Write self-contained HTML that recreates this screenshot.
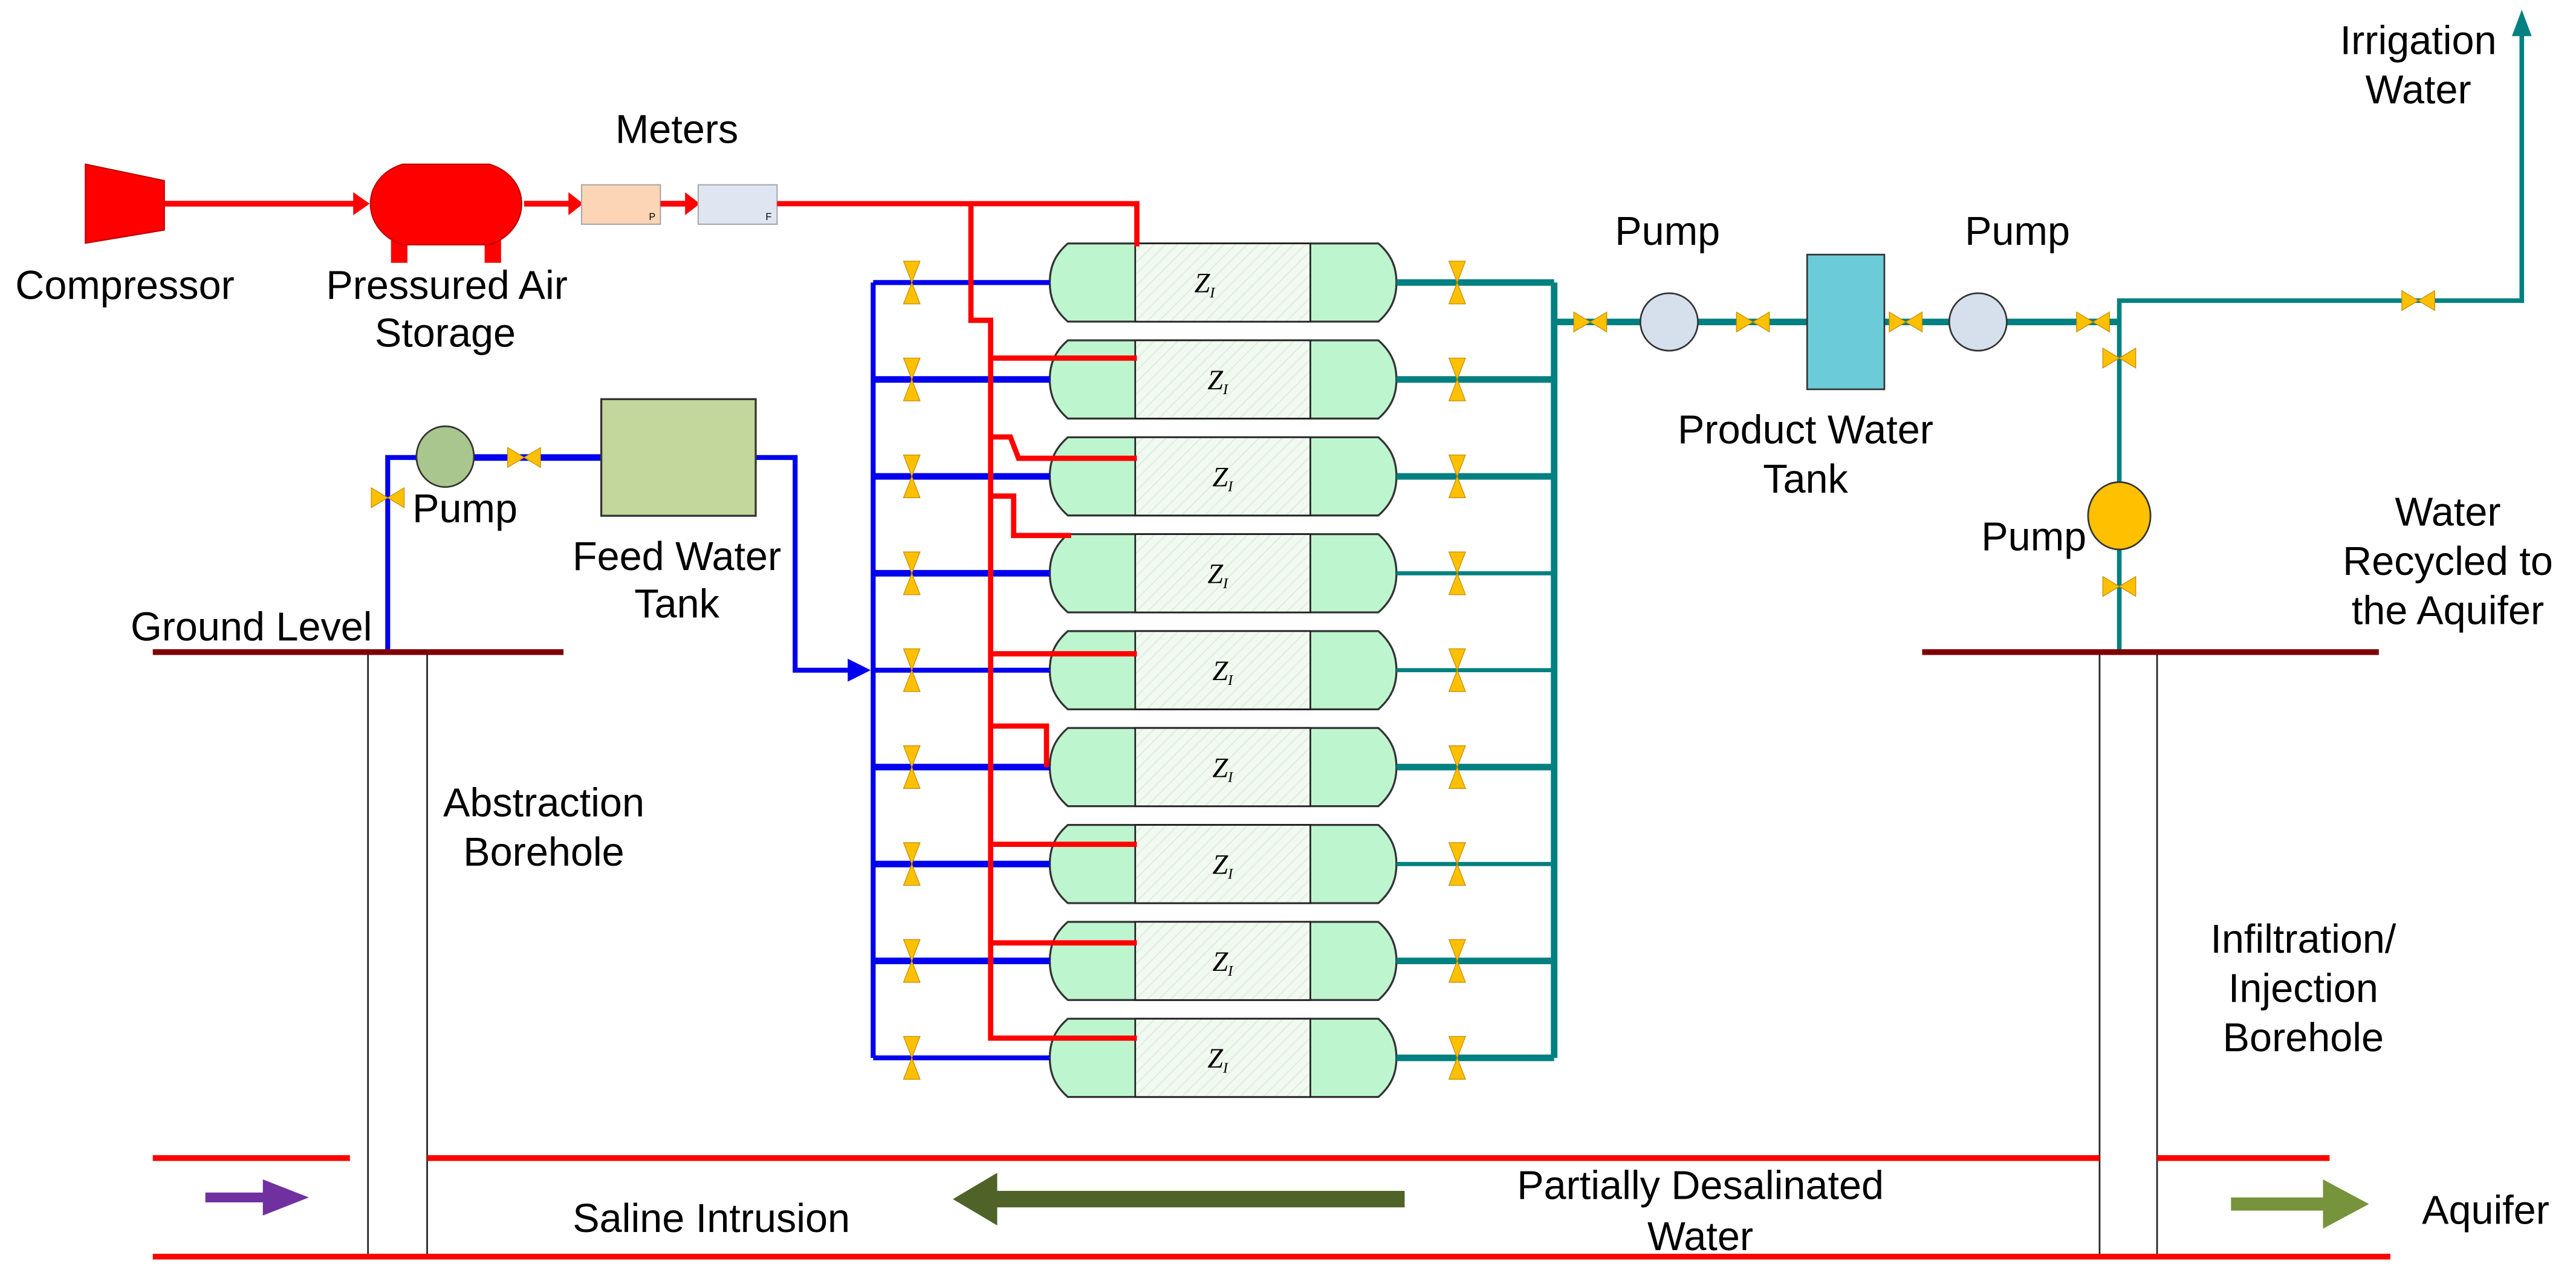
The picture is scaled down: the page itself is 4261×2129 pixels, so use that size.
<!DOCTYPE html>
<html><head><meta charset="utf-8"><style>
html,body{margin:0;padding:0;background:#fff;}
svg{display:block;}
text{font-family:"Liberation Sans",sans-serif;font-size:24.5px;fill:#000;}
.z{font-family:"Liberation Serif",serif;font-style:italic;font-size:17px;}
</style></head><body>
<svg width="4261" height="2129" viewBox="0 0 1568 783.5" preserveAspectRatio="none" xmlns="http://www.w3.org/2000/svg">
<defs>
<pattern id="h" width="5" height="5" patternUnits="userSpaceOnUse" patternTransform="rotate(45)">
<rect width="5" height="5" fill="#f1f9f1"/><line x1="0" y1="0" x2="0" y2="5" stroke="#dfeedf" stroke-width="1.5"/></pattern>
<g id="ves">
<path d="M650,-23.8 L839,-23.8 C848,-16 850,-8 850,0 C850,8 848,16 839,23.8 L650,23.8 C641,16 639,8 639,0 C639,-8 641,-16 650,-23.8 Z" fill="#bdf5cf" stroke="#333" stroke-width="1.2"/>
<rect x="691" y="-23.8" width="106.6" height="47.6" fill="url(#h)" stroke="#222" stroke-width="1"/>
</g>
<g id="vv"><polygon points="-5,-13 5,-13 0,0" fill="#ffc000" stroke="#c89000" stroke-width="0.5"/><polygon points="-5,13 5,13 0,0" fill="#ffc000" stroke="#c89000" stroke-width="0.5"/></g>
<g id="vh"><polygon points="-10,-6 -10,6 0,0" fill="#ffc000" stroke="#c89000" stroke-width="0.5"/><polygon points="10,-6 10,6 0,0" fill="#ffc000" stroke="#c89000" stroke-width="0.5"/></g>
</defs>

<!-- compressor line -->
<polygon points="52,100 100,110 100,140 52,148" fill="#ff0000" stroke="#c00000" stroke-width="0.8"/>
<line x1="100" y1="124" x2="216" y2="124" stroke="#ff0000" stroke-width="3.5"/>
<polygon points="215,117 225,124 215,131" fill="#ff0000"/>
<rect x="238" y="145" width="10" height="15" fill="#ff0000"/><rect x="295" y="145" width="10" height="15" fill="#ff0000"/>
<path d="M245,100 L298,100 C324,108 324,140 298,149 L245,149 C219,140 219,108 245,100 Z" fill="#ff0000" stroke="#c00000" stroke-width="0.8"/>
<line x1="319" y1="124" x2="347" y2="124" stroke="#ff0000" stroke-width="3.5"/>
<polygon points="346,117 355,124 346,131" fill="#ff0000"/>
<rect x="354" y="112.5" width="48" height="24" fill="#fbd5b5" stroke="#aaa" stroke-width="0.8"/>
<text x="395" y="134" style="font-size:6px">P</text>
<line x1="402" y1="124" x2="418" y2="124" stroke="#ff0000" stroke-width="3.5"/>
<polygon points="417,117 426,124 417,131" fill="#ff0000"/>
<rect x="425" y="112.5" width="48" height="24" fill="#dfe6f1" stroke="#aaa" stroke-width="0.8"/>
<text x="466" y="134" style="font-size:6px">F</text>

<!-- vessels -->
<use href="#ves" y="172"/><use href="#ves" y="231"/><use href="#ves" y="290"/>
<use href="#ves" y="349"/><use href="#ves" y="408"/><use href="#ves" y="467"/>
<use href="#ves" y="526"/><use href="#ves" y="585"/><use href="#ves" y="644"/>
<text class="z" x="727" y="178">Z<tspan style="font-size:9px" dy="3">I</tspan></text>
<text class="z" x="735" y="237">Z<tspan style="font-size:9px" dy="3">I</tspan></text>
<text class="z" x="738" y="296">Z<tspan style="font-size:9px" dy="3">I</tspan></text>
<text class="z" x="735" y="355">Z<tspan style="font-size:9px" dy="3">I</tspan></text>
<text class="z" x="738" y="414">Z<tspan style="font-size:9px" dy="3">I</tspan></text>
<text class="z" x="738" y="473">Z<tspan style="font-size:9px" dy="3">I</tspan></text>
<text class="z" x="738" y="532">Z<tspan style="font-size:9px" dy="3">I</tspan></text>
<text class="z" x="738" y="591">Z<tspan style="font-size:9px" dy="3">I</tspan></text>
<text class="z" x="735" y="650">Z<tspan style="font-size:9px" dy="3">I</tspan></text>

<!-- blue feed -->
<g stroke="#0000ee" stroke-width="3" fill="none">
<line x1="531.5" y1="172" x2="531.5" y2="644"/>
<line x1="531.5" y1="172" x2="639" y2="172"/><line x1="531.5" y1="231" x2="639" y2="231" stroke-width="4"/>
<line x1="531.5" y1="290" x2="639" y2="290" stroke-width="4"/><line x1="531.5" y1="349" x2="639" y2="349" stroke-width="4"/>
<line x1="531.5" y1="408" x2="639" y2="408"/><line x1="531.5" y1="467" x2="639" y2="467" stroke-width="4"/>
<line x1="531.5" y1="526" x2="639" y2="526" stroke-width="4"/><line x1="531.5" y1="585" x2="639" y2="585" stroke-width="4"/>
<line x1="531.5" y1="644" x2="639" y2="644"/>
<polyline points="236,397 236,278.5 366,278.5"/>
<polyline points="460,278.5 484,278.5 484,408 520,408"/>
</g>
<line x1="253" y1="278.5" x2="366" y2="278.5" stroke="#0000ee" stroke-width="4"/>
<polygon points="516,401 530,408 516,415" fill="#0000ee"/>
<ellipse cx="271" cy="278" rx="17.5" ry="18.5" fill="#a9c68e" stroke="#333" stroke-width="1"/>
<rect x="366" y="243" width="94" height="71" fill="#c3d69b" stroke="#333" stroke-width="1.2"/>

<!-- red air branches -->
<g stroke="#ff0000" stroke-width="3.2" fill="none">
<polyline points="473,124 692,124 692,150"/>
<polyline points="591,124 591,195 603,195 603,632 692,632"/>
<line x1="603" y1="218" x2="692" y2="218"/>
<polyline points="603,266 615,266 620,279 692,279"/>
<polyline points="603,302 617,302 617,326 652,326"/>
<line x1="603" y1="398" x2="692" y2="398"/>
<polyline points="603,442 637,442 637,467"/>
<line x1="603" y1="514" x2="692" y2="514"/>
<line x1="603" y1="574" x2="692" y2="574"/>
</g>

<!-- teal outputs -->
<g stroke="#008080" stroke-width="4" fill="none">
<line x1="946" y1="172" x2="946" y2="644"/>
<line x1="850" y1="172" x2="946" y2="172"/><line x1="850" y1="231" x2="946" y2="231"/>
<line x1="850" y1="290" x2="946" y2="290"/><line x1="850" y1="349" x2="946" y2="349" stroke-width="2.5"/>
<line x1="850" y1="408" x2="946" y2="408" stroke-width="2.5"/><line x1="850" y1="467" x2="946" y2="467"/>
<line x1="850" y1="526" x2="946" y2="526" stroke-width="2.5"/><line x1="850" y1="585" x2="946" y2="585"/>
<line x1="850" y1="644" x2="946" y2="644"/>
<line x1="946" y1="196" x2="1290" y2="196"/>
<polyline points="1290,397 1290,183 1535,183 1535,20" stroke-width="2.8"/>
</g>
<polygon points="1529,22 1535,6 1541,22" fill="#008080"/>
<circle cx="1016" cy="196" r="17.5" fill="#d6e0ec" stroke="#333" stroke-width="1"/>
<rect x="1100" y="155" width="47" height="82" fill="#6ccbd9" stroke="#333" stroke-width="1"/>
<circle cx="1204" cy="196" r="17.5" fill="#d6e0ec" stroke="#333" stroke-width="1"/>
<ellipse cx="1290" cy="314" rx="19" ry="20.5" fill="#ffc000" stroke="#333" stroke-width="1"/>

<!-- valves -->
<use href="#vv" x="555" y="172"/><use href="#vv" x="555" y="231"/><use href="#vv" x="555" y="290"/>
<use href="#vv" x="555" y="349"/><use href="#vv" x="555" y="408"/><use href="#vv" x="555" y="467"/>
<use href="#vv" x="555" y="526"/><use href="#vv" x="555" y="585"/><use href="#vv" x="555" y="644"/>
<use href="#vv" x="887" y="172"/><use href="#vv" x="887" y="231"/><use href="#vv" x="887" y="290"/>
<use href="#vv" x="887" y="349"/><use href="#vv" x="887" y="408"/><use href="#vv" x="887" y="467"/>
<use href="#vv" x="887" y="526"/><use href="#vv" x="887" y="585"/><use href="#vv" x="887" y="644"/>
<use href="#vh" x="968" y="196"/><use href="#vh" x="1067" y="196"/><use href="#vh" x="1160" y="196"/>
<use href="#vh" x="1274" y="196"/><use href="#vh" x="1472" y="183"/><use href="#vh" x="1290" y="218"/>
<use href="#vh" x="1290" y="357"/><use href="#vh" x="236" y="303"/><use href="#vh" x="319" y="278.5"/>

<!-- ground & boreholes -->
<rect x="224" y="397" width="36" height="368" fill="#fff" stroke="#222" stroke-width="1"/>
<rect x="1278" y="397" width="35" height="368" fill="#fff" stroke="#222" stroke-width="1"/>
<line x1="93" y1="397" x2="343" y2="397" stroke="#7f0000" stroke-width="3.5"/>
<line x1="1170" y1="397" x2="1448" y2="397" stroke="#7f0000" stroke-width="3.5"/>
<g stroke="#ff0000" stroke-width="3.5">
<line x1="93" y1="705" x2="213" y2="705"/><line x1="260" y1="705" x2="1278" y2="705"/><line x1="1313" y1="705" x2="1418" y2="705"/>
<line x1="93" y1="765" x2="1455" y2="765"/>
</g>
<line x1="125" y1="729" x2="172" y2="729" stroke="#7030a0" stroke-width="6"/>
<polygon points="160,718 188,729 160,740" fill="#7030a0"/>
<line x1="600" y1="730" x2="855" y2="730" stroke="#4f6228" stroke-width="10"/>
<polygon points="607,714 580,730 607,746" fill="#4f6228"/>
<line x1="1358" y1="733" x2="1422" y2="733" stroke="#77933c" stroke-width="8"/>
<polygon points="1414,718 1442,733 1414,748" fill="#77933c"/>

<!-- labels -->
<g text-anchor="middle">
<text x="412" y="87">Meters</text>
<text x="76" y="182">Compressor</text>
<text x="272" y="182">Pressured Air</text>
<text x="271" y="211">Storage</text>
<text x="1015" y="149">Pump</text>
<text x="1228" y="149">Pump</text>
<text x="1472" y="33">Irrigation</text>
<text x="1472" y="63">Water</text>
<text x="1099" y="270">Product Water</text>
<text x="1099" y="300">Tank</text>
<text x="283" y="318">Pump</text>
<text x="412" y="347">Feed Water</text>
<text x="412" y="376">Tank</text>
<text x="153" y="390">Ground Level</text>
<text x="1238" y="335">Pump</text>
<text x="1490" y="320">Water</text>
<text x="1490" y="350">Recycled to</text>
<text x="1490" y="380">the Aquifer</text>
<text x="331" y="497">Abstraction</text>
<text x="331" y="527">Borehole</text>
<text x="1402" y="580">Infiltration/</text>
<text x="1402" y="610">Injection</text>
<text x="1402" y="640">Borehole</text>
<text x="433" y="750">Saline Intrusion</text>
<text x="1035" y="730">Partially Desalinated</text>
<text x="1035" y="761">Water</text>
<text x="1513" y="745">Aquifer</text>
</g>
</svg>
</body></html>
